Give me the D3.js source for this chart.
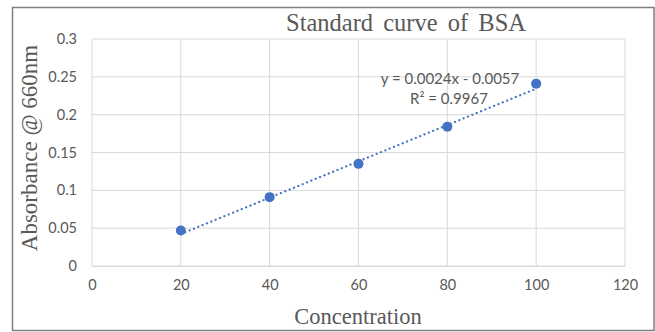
<!DOCTYPE html>
<html>
<head>
<meta charset="utf-8">
<script src="https://cdn.jsdelivr.net/npm/d3@7"></script>
<style>
  html, body { margin: 0; padding: 0; background: #fff; }
  svg { display: block; }
</style>
</head>
<body>
<svg id="chart" width="655" height="332"></svg>
<script>
// ---- data ----
const concentration = [20, 40, 60, 80, 100];
const absorbance = [0.047, 0.091, 0.135, 0.184, 0.241];
const xTicks = [0, 20, 40, 60, 80, 100, 120];
const yTicks = [0, 0.05, 0.1, 0.15, 0.2, 0.25, 0.3];
const titleText = "Standard curve of BSA";
const xTitle = "Concentration";
const yTitle = "Absorbance @ 660nm";
const eqSlope = 0.0024;
const eqIntercept = -0.0057;
const eqR2 = 0.9967;

// ---- layout ----
const svg = d3.select("#chart");
const plot = { left: 92, right: 625, top: 39, bottom: 266 };
const x = d3.scaleLinear().domain([0, 120]).range([plot.left, plot.right]);
const y = d3.scaleLinear().domain([0, 0.3]).range([plot.bottom, plot.top]);
const textColor = "#595959";
const blue = "#4472C4";

// frame
svg.append("rect")
  .attr("x", 12.5).attr("y", 7.5).attr("width", 641.5).attr("height", 323)
  .attr("fill", "#fff").attr("stroke", "#7f7f7f").attr("stroke-width", 1.5);

// grid
const grid = svg.append("g");
grid.selectAll(".hg").data(yTicks).join("line")
  .attr("x1", plot.left).attr("x2", plot.right)
  .attr("y1", d => y(d)).attr("y2", d => y(d))
  .attr("stroke", "#d9d9d9").attr("stroke-width", 1);
grid.selectAll(".vg").data(xTicks).join("line")
  .attr("y1", plot.top).attr("y2", plot.bottom)
  .attr("x1", d => x(d)).attr("x2", d => x(d))
  .attr("stroke", "#d9d9d9").attr("stroke-width", 1);

// axes (labels only)
const xAxis = d3.axisBottom(x).tickValues(xTicks).tickSize(0).tickPadding(14).tickFormat(d3.format("d"));
const gx = svg.append("g").attr("transform", `translate(0,${plot.bottom})`).call(xAxis);
gx.select(".domain").attr("stroke", "#d9d9d9");
gx.selectAll("text").attr("fill", textColor).attr("font-family", "Lato, 'Open Sans', sans-serif").attr("font-size", 14.5);

const yAxis = d3.axisLeft(y).tickValues(yTicks).tickSize(0).tickPadding(15).tickFormat(d => String(+d.toFixed(2)));
const gy = svg.append("g").attr("transform", `translate(${plot.left},0)`).call(yAxis);
gy.select(".domain").remove();
gy.selectAll("text").attr("fill", textColor).attr("font-family", "Lato, 'Open Sans', sans-serif").attr("font-size", 14.5);

// trendline
const x0 = d3.min(concentration), x1 = d3.max(concentration);
svg.append("line")
  .attr("x1", x(x0)).attr("y1", y(eqSlope * x0 + eqIntercept))
  .attr("x2", x(x1)).attr("y2", y(eqSlope * x1 + eqIntercept))
  .attr("stroke", blue).attr("stroke-width", 2.2)
  .attr("stroke-dasharray", "0.1,4.6").attr("stroke-linecap", "round");

// points
svg.selectAll(".pt").data(concentration).join("circle")
  .attr("cx", d => x(d)).attr("cy", (d, i) => y(absorbance[i]))
  .attr("r", 5).attr("fill", blue);

// equation label
const eq = svg.append("text").attr("fill", textColor)
  .attr("font-family", "Lato, 'Open Sans', sans-serif").attr("font-size", 15)
  .attr("text-anchor", "middle");
eq.append("tspan").attr("x", 450).attr("y", 84)
  .text(`y = ${eqSlope}x - ${Math.abs(eqIntercept)}`);
eq.append("tspan").attr("x", 449).attr("y", 104).text(`R² = ${eqR2}`);

// titles
svg.append("text").attr("x", 406).attr("y", 31).attr("text-anchor", "middle")
  .attr("font-family", "'Liberation Serif', serif").attr("font-size", 24.5)
  .attr("fill", textColor).attr("word-spacing", 4).text(titleText);
svg.append("text").attr("x", 358).attr("y", 324).attr("text-anchor", "middle")
  .attr("font-family", "'Liberation Serif', serif").attr("font-size", 22.5)
  .attr("fill", textColor).text(xTitle);
svg.append("text").attr("transform", `translate(37,148) rotate(-90)`).attr("text-anchor", "middle")
  .attr("font-family", "'Liberation Serif', serif").attr("font-size", 23)
  .attr("fill", textColor).text(yTitle);
</script>
</body>
</html>
